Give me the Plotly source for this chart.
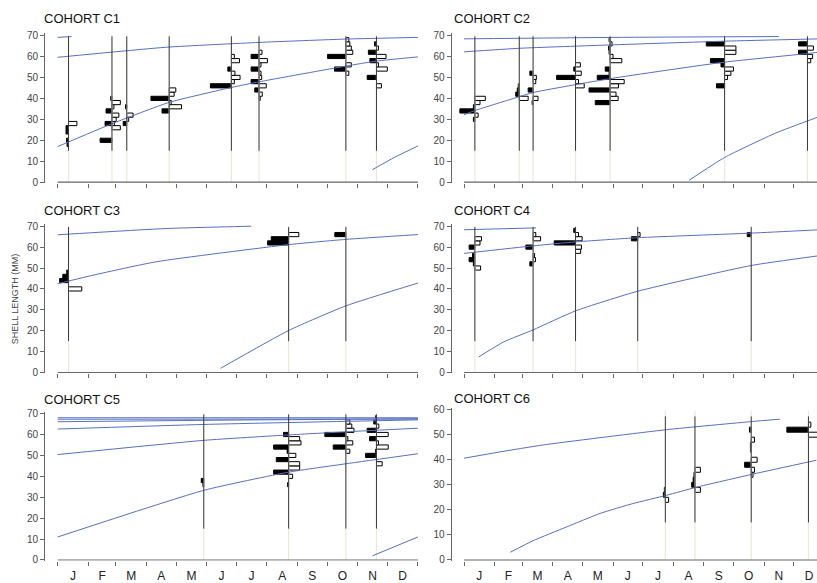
import plotly.graph_objects as go

W, H = 817, 583

# ---------------- axis labels ----------------
MONTHS = ["J", "F", "M", "A", "M", "J", "J", "A", "S", "O", "N", "D"]
MONTH_STARTS = [0, 31, 59, 90, 120, 151, 181, 212, 243, 273, 304, 334, 365]
MONTH_MIDS = [15.5, 45, 74.5, 105, 135.5, 166, 196.5, 227.5, 258, 288.5, 319, 349.5]
TITLES = ["COHORT C1", "COHORT C2", "COHORT C3", "COHORT C4", "COHORT C5", "COHORT C6"]
Y_TITLE = "SHELL LENGTH (MM)"

# ---------------- sampling dates (day of year) ----------------
C1_DATES = [11, 55, 70, 113, 176, 204, 292, 323]
C2_DATES = [11, 56, 70, 113, 148, 264, 348]
C3_DATES = [11, 234, 292]
C4_DATES = [11, 70, 113, 176, 291]
C5_DATES = [148, 234, 292, 323]
C6_DATES = [204, 234, 291, 349]

# ---------------- length-frequency histograms: (length class mm, frequency) ----------------
C1_BLACK = [
    [(26, 2.5), (24, 2.5), (20, 2), (18, 1.5)],
    [(20, 12), (28, 7), (34, 6), (40, 1.2)],
    [(28, 3.6), (36, 1.2)],
    [(34, 7.3), (40, 18.5)],
    [(46, 21.3), (54, 3.6)],
    [(44, 4.3), (48, 8), (54, 8), (60, 8)],
    [(54, 11.5), (60, 18.5)],
    [(50, 9.4), (58, 6.7), (62, 8.2), (66, 2)],
]
C1_WHITE = [
    [(28, 8.5)],
    [(26, 8.5), (28, 2.5), (30, 4.3), (32, 7), (36, 2), (38, 8.5)],
    [(30, 2), (32, 6.4)],
    [(36, 12.5), (38, 2), (42, 5), (44, 6.7)],
    [(48, 3), (50, 8.8), (52, 3.6), (58, 8.2), (60, 3)],
    [(40, 1.2), (42, 3.3), (46, 7.3), (50, 2.7), (52, 2), (56, 2), (58, 8.5), (62, 3)],
    [(52, 3), (56, 5.5), (62, 7), (64, 5.5), (66, 4), (68, 3)],
    [(46, 5), (54, 11), (56, 2), (60, 9.7), (64, 2)],
]
C2_BLACK = [
    [(30, 1.5), (34, 15.2), (36, 1.5)],
    [(42, 3.6), (44, 2), (46, 1)],
    [(38, 1), (44, 5), (52, 3.3)],
    [(50, 19.2), (54, 1.8)],
    [(38, 15), (44, 21.3), (50, 13), (52, 1), (54, 4.9), (62, 1), (64, 1.5), (68, 1)],
    [(46, 8.2), (56, 3.6), (58, 14.3), (66, 18.5)],
    [(62, 9), (66, 9)],
]
C2_WHITE = [
    [(32, 3.3), (38, 5.2), (40, 10.6)],
    [(40, 9)],
    [(40, 5), (48, 2.7), (50, 3.3)],
    [(46, 8.8), (48, 3), (52, 5.8), (56, 4.9)],
    [(40, 8.2), (42, 6), (46, 8.5), (48, 14.3), (58, 11.9), (60, 3), (66, 2)],
    [(50, 3), (52, 6.4), (54, 9), (62, 11.5), (64, 11.5)],
    [(58, 3.3), (60, 5.2), (64, 6)],
]
C3_BLACK = [
    [(44, 9), (46, 5.8), (48, 1.8)],
    [(62, 21.3), (64, 17.6)],
    [(66, 11.2)],
]
C3_WHITE = [
    [(40, 13.4)],
    [(66, 10.3)],
    [],
]
C4_BLACK = [
    [(52, 1.5), (54, 5.8), (56, 2.4), (60, 5.8)],
    [(52, 3.3), (60, 7.3)],
    [(62, 21.6), (68, 1.8)],
    [(64, 6.4)],
    [(66, 4)],
]
C4_WHITE = [
    [(50, 5.8), (62, 5.2), (64, 6.7)],
    [(54, 2.4), (56, 1.5), (64, 7.6), (66, 2.7)],
    [(58, 5.2), (60, 6), (64, 6.7), (66, 3)],
    [(66, 2.4)],
    [],
]
C5_BLACK = [
    [(38, 2.5), (36, 0.8)],
    [(36, 1), (42, 15.2), (48, 12.5), (52, 1.5), (54, 15.2), (60, 5.2)],
    [(54, 12.8), (60, 21.3)],
    [(50, 11), (52, 1), (58, 7), (62, 9.4), (66, 2.7), (68, 1)],
]
C5_WHITE = [
    [],
    [(40, 4), (44, 11.2), (46, 11.2), (50, 7.3), (56, 12.5), (58, 11.2)],
    [(52, 4), (56, 7), (58, 2), (62, 8.2), (64, 6), (66, 4)],
    [(46, 5.8), (54, 11.9), (56, 2), (60, 11.9), (64, 2.4)],
]
C6_BLACK = [
    [(26, 2), (28, 1)],
    [(30, 3.3), (32, 1.8), (34, 1)],
    [(38, 6.7), (44, 0.8), (46, 0.8), (52, 1.8)],
    [(52, 21.9)],
]
C6_WHITE = [
    [(24, 3.3)],
    [(28, 5.5), (36, 5.5)],
    [(34, 1.8), (36, 3.3), (40, 6), (48, 3.3)],
    [(50, 12), (54, 2.4)],
]

# ---------------- growth curves: (day of year, shell length mm) ----------------
C1_CURVES = [
    [(0, 69.1), (14, 69.5)],
    [(0, 59.6), (110, 64.4), (204, 66.7), (292, 68.3), (365, 69.1)],
    [(0, 17), (55, 27.9), (113, 38.1), (176, 45.2), (204, 47.9), (292, 55.4), (323, 57.8), (365, 59.8)],
    [(319, 6), (341, 11.8), (365, 17.3)],
]
C2_CURVES = [
    [(0, 68.4), (152, 69.1), (319, 69.5)],
    [(0, 62.2), (56, 63.9), (148, 65.5), (264, 67.3), (360, 68.4)],
    [(0, 32.2), (11, 34.2), (56, 40.8), (70, 42.8), (148, 49.4), (264, 57.3), (348, 61.4), (360, 62.1)],
    [(228, 0.9), (264, 11.8), (316, 23.5), (360, 31.3)],
]
C3_CURVES = [
    [(0, 65.9), (110, 68.9), (196, 70.0)],
    [(0, 42.5), (38, 46.8), (100, 53), (234, 61.2), (292, 63.7), (365, 66)],
    [(165, 2), (234, 20.1), (292, 31.9), (365, 42.8)],
]
C4_CURVES = [
    [(0, 68.3), (73, 69.2)],
    [(0, 57), (70, 60.6), (113, 62.5), (176, 64.5), (291, 66.7), (360, 68.3)],
    [(15, 7.5), (40, 14.6), (70, 20.4), (113, 29.5), (176, 38.9), (291, 51.2), (360, 55.9)],
]
C5_CURVES = [
    [(0, 68.0), (365, 68.0)],
    [(0, 67.3), (365, 67.4)],
    [(0, 66.1), (180, 66.9), (365, 67.5)],
    [(0, 62.6), (148, 64.8), (365, 67.0)],
    [(0, 50.4), (148, 57.2), (234, 59.8), (292, 61.3), (365, 63.0)],
    [(0, 11), (148, 33.3), (234, 42), (292, 46), (365, 50.8)],
    [(319, 2), (365, 11)],
]
C6_CURVES = [
    [(0, 40.6), (36, 43.1), (80, 45.9), (205, 52.0), (293, 55.3), (320, 56.2)],
    [(47, 3.1), (70, 7.7), (104, 13.2), (138, 18.6), (171, 22.5), (205, 25.8), (235, 29.0), (293, 34.3), (357, 39.8)],
]

Y_TICKS_70 = [0, 10, 20, 30, 40, 50, 60, 70]
Y_TICKS_60 = [0, 10, 20, 30, 40, 50, 60]

# ---------------- layout geometry (pixels) ----------------
PX_PER_DAY = 0.987
COLS = [dict(axis_px=45.0, day0_px=57.67, right_px=420.0, title_px=42.0),
        dict(axis_px=451.7, day0_px=464.0, right_px=817.0, title_px=452.0)]
PANELS = [
    dict(col=0, v0=181.0, vt=70, vt_px=32.0, top=29.2, title_y=15, bottom=False, line_top=69.6, beige_top=70),
    dict(col=1, v0=181.0, vt=70, vt_px=32.0, top=29.2, title_y=15, bottom=False, line_top=69.6, beige_top=70),
    dict(col=0, v0=374.3, vt=70, vt_px=225.7, top=223.3, title_y=210, bottom=False, line_top=69.6, beige_top=70),
    dict(col=1, v0=374.3, vt=70, vt_px=225.7, top=223.3, title_y=210, bottom=False, line_top=69.6, beige_top=70),
    dict(col=0, v0=564.7, vt=70, vt_px=416.0, top=414.0, title_y=402, bottom=True, line_top=69.6, beige_top=70),
    dict(col=1, v0=564.7, vt=60, vt_px=412.0, top=410.7, title_y=401, bottom=True, line_top=57.3, beige_top=59.7),
]

DATA = [
    (C1_DATES, C1_BLACK, C1_WHITE, C1_CURVES, Y_TICKS_70),
    (C2_DATES, C2_BLACK, C2_WHITE, C2_CURVES, Y_TICKS_70),
    (C3_DATES, C3_BLACK, C3_WHITE, C3_CURVES, Y_TICKS_70),
    (C4_DATES, C4_BLACK, C4_WHITE, C4_CURVES, Y_TICKS_70),
    (C5_DATES, C5_BLACK, C5_WHITE, C5_CURVES, Y_TICKS_70),
    (C6_DATES, C6_BLACK, C6_WHITE, C6_CURVES, Y_TICKS_60),
]

BLUE = "#5570c2"
DARK = "#3a3a3a"
BEIGE = "#ece8d8"
AXIS = "#666666"
FONT = "Liberation Sans, Arial, sans-serif"

fig = go.Figure()
layout = dict(
    width=W, height=H, autosize=False,
    margin=dict(l=0, r=0, t=0, b=0),
    paper_bgcolor="white", plot_bgcolor="white",
    showlegend=False, barmode="overlay",
    font=dict(family=FONT, color="#333"),
)
annotations = []

for i, (panel, (dates, black, white, curves, yticks)) in enumerate(zip(PANELS, DATA)):
    n = i + 1
    xa = "x" if n == 1 else f"x{n}"
    ya = "y" if n == 1 else f"y{n}"
    col = COLS[panel["col"]]
    ppu = (panel["v0"] - panel["vt_px"]) / panel["vt"]
    ylow = -0.4
    yhigh = (panel["v0"] - panel["top"]) / ppu
    bot_px = panel["v0"] - ylow * ppu
    xr = [(col["axis_px"] - col["day0_px"]) / PX_PER_DAY, (col["right_px"] - col["day0_px"]) / PX_PER_DAY]

    # beige full-height sampling lines
    bx, by = [], []
    for d in dates:
        bx += [d, d, None]
        by += [0, panel["beige_top"], None]
    fig.add_trace(go.Scatter(x=bx, y=by, xaxis=xa, yaxis=ya, mode="lines",
                             line=dict(color=BEIGE, width=1.2), hoverinfo="skip"))
    # baseline
    fig.add_trace(go.Scatter(x=[0, 365], y=[0, 0], xaxis=xa, yaxis=ya, mode="lines",
                             line=dict(color=AXIS, width=1.2), hoverinfo="skip"))
    # growth curves
    for c in curves:
        fig.add_trace(go.Scatter(x=[p[0] for p in c], y=[p[1] for p in c], xaxis=xa, yaxis=ya,
                                 mode="lines", line=dict(color=BLUE, width=1, shape="spline", smoothing=0.5),
                                 hoverinfo="skip"))
    # dark sampling lines
    dx, dy = [], []
    for d in dates:
        dx += [d, d, None]
        dy += [15, panel["line_top"], None]
    fig.add_trace(go.Scatter(x=dx, y=dy, xaxis=xa, yaxis=ya, mode="lines",
                             line=dict(color=DARK, width=1), hoverinfo="skip"))
    # histograms
    by_, bl_, bb_ = [], [], []
    for d, bars in zip(dates, black):
        for cls, f in bars:
            by_.append(cls); bl_.append(f); bb_.append(d - f)
    wy_, wl_, wb_ = [], [], []
    for d, bars in zip(dates, white):
        for cls, f in bars:
            wy_.append(cls); wl_.append(f); wb_.append(d)
    fig.add_trace(go.Bar(y=by_, x=bl_, base=bb_, orientation="h", width=2, xaxis=xa, yaxis=ya,
                         marker=dict(color="black", line=dict(color="black", width=1)), hoverinfo="skip"))
    fig.add_trace(go.Bar(y=wy_, x=wl_, base=wb_, orientation="h", width=2, xaxis=xa, yaxis=ya,
                         marker=dict(color="white", line=dict(color="black", width=1)), hoverinfo="skip"))

    layout[f"xaxis{'' if n == 1 else n}"] = dict(
        domain=[col["axis_px"] / W, col["right_px"] / W], range=xr, anchor=ya,
        showline=False, showgrid=False, zeroline=False,
        tickvals=MONTH_MIDS, ticktext=MONTHS, showticklabels=panel["bottom"], ticks="",
        ticklabelstandoff=6,
        tickfont=dict(size=12, color="#222", family=FONT),
        minor=dict(tickvals=MONTH_STARTS, ticks="outside", ticklen=4, tickcolor=AXIS, tickwidth=1),
        fixedrange=True,
    )
    layout[f"yaxis{'' if n == 1 else n}"] = dict(
        domain=[1 - bot_px / H, 1 - panel["top"] / H], range=[ylow, yhigh], anchor=xa,
        showline=True, linecolor=AXIS, linewidth=1, showgrid=False, zeroline=False,
        ticks="outside", ticklen=4, tickcolor=AXIS, tickvals=yticks,
        tickfont=dict(size=10, color="#444", family=FONT), fixedrange=True,
    )
    annotations.append(dict(text=TITLES[i], x=col["title_px"] / W, y=1 - panel["title_y"] / H,
                            xref="paper", yref="paper", xanchor="left", yanchor="middle",
                            showarrow=False, font=dict(size=13, color="#111", family=FONT)))

annotations.append(dict(text=Y_TITLE, x=15 / W, y=1 - 300 / H, xref="paper", yref="paper",
                        xanchor="center", yanchor="middle", textangle=-90, showarrow=False,
                        font=dict(size=9, color="#444", family=FONT)))
layout["annotations"] = annotations
fig.update_layout(**layout)
fig.write_html("out.html")
